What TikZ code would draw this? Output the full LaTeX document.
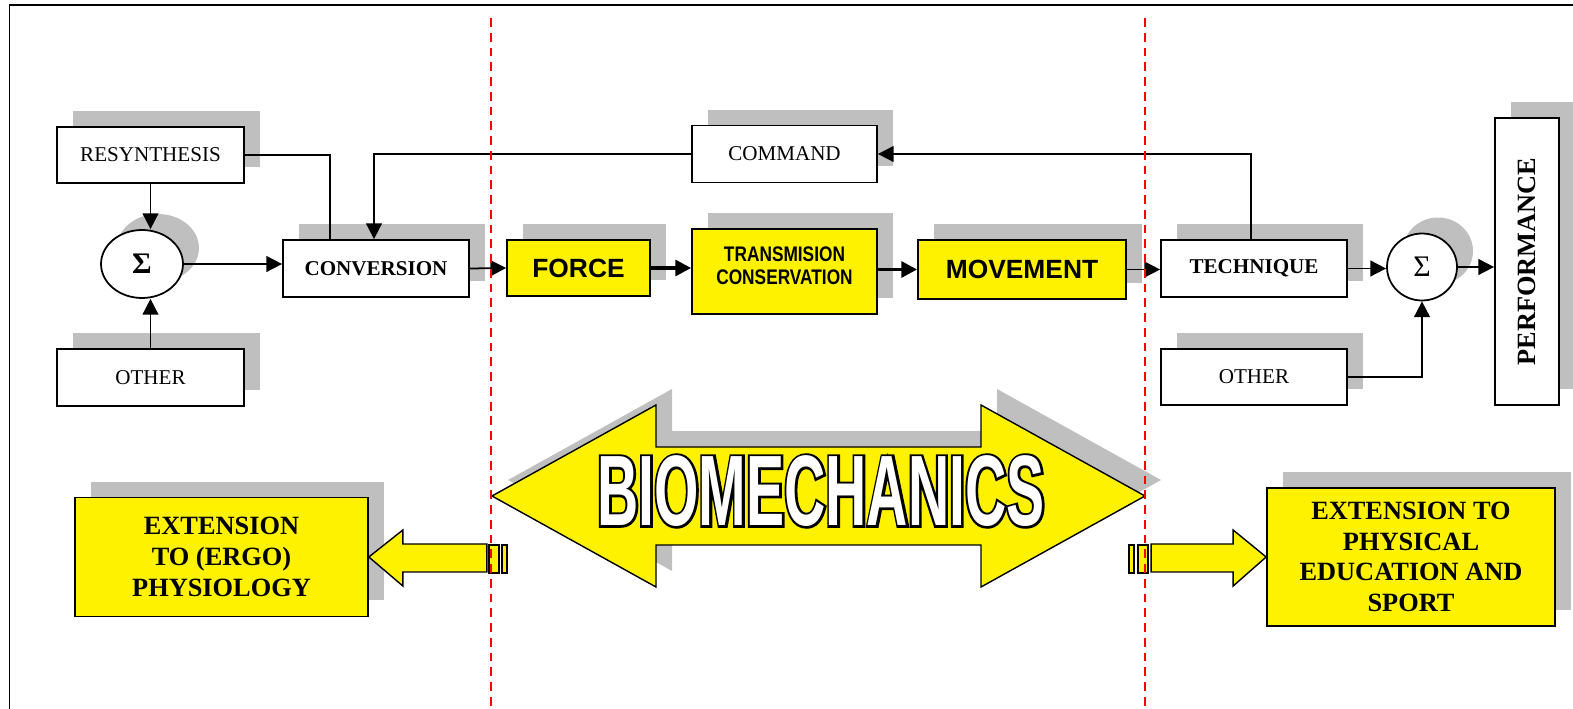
\documentclass[tikz,border=0pt]{standalone}
\usepackage{fontspec}
\setmainfont{Liberation Serif}
\newfontfamily\arialfont{Liberation Sans}
\newfontfamily\narrowfont[FakeStretch=0.82]{Liberation Sans}
\newfontfamily\biofont[FakeStretch=0.57]{Liberation Sans}
\usetikzlibrary{positioning,shapes.geometric,shadows,arrows.meta}

\newcommand{\boxfont}{\fontsize{12}{14}\selectfont}
\newcommand{\bigfont}{\fontsize{15}{17.5}\selectfont\bfseries}
% white letters with a black rim round them
\newcommand{\outlined}[1]{\rlap{\color{black}\special{pdf:literal direct 2 Tr 2.6 w}#1\special{pdf:literal direct 0 Tr}}#1}

\tikzset{
  lift/.style={drop shadow={shadow xshift=0.32cm, shadow yshift=0.32cm, fill=black!25, opacity=1}},
  block/.style={draw, line width=1pt, fill=white, lift, align=center, inner sep=2pt, font=\boxfont},
  yblock/.style={block, fill=yellow},
  sum/.style={ellipse, draw, line width=1pt, fill=white, lift, inner sep=0pt},
  link/.style={line width=1pt},
  flow/.style={->, line width=1pt},
  bigflow/.style={->, line width=2pt},
  border/.style={red, dash pattern=on 5pt off 3.4pt, line width=1.1pt},
  fatarrow/.style={draw, line width=0.8pt, fill=yellow},
}

\begin{document}
\begin{tikzpicture}[x=0.02cm, y=-0.02cm, >={Triangle[length=9pt,width=9pt]}]
\useasboundingbox (0,0) rectangle (1573,709);
\draw[line width=1.1pt] (9.5,720) -- (9.5,5) -- (1600,5);

% input side
\node[block, minimum width=3.74cm, minimum height=1.12cm] (res) at (150.5,155) {RESYNTHESIS};
\node[block, minimum width=3.74cm, minimum height=1.14cm] (otherL) at (150.5,377.5) {OTHER};
\node[sum, minimum width=1.64cm, minimum height=1.36cm] (sumL) at (142,264) {\fontsize{17}{17}\selectfont\bfseries Σ};
\node[block, minimum width=3.72cm, minimum height=1.14cm, font=\boxfont\bfseries] (conv) at (376,268.5) {CONVERSION};
\node[block, minimum width=3.70cm, minimum height=1.14cm] (cmd) at (784.5,154) {COMMAND};

% biomechanics chain
\node[yblock, minimum width=2.86cm, minimum height=1.12cm, font=\arialfont\bfseries\fontsize{15}{18}\selectfont] (force) at (578.5,268) {FORCE};
\node[yblock, minimum width=3.70cm, minimum height=1.70cm, font=\narrowfont\bfseries\fontsize{12}{13}\selectfont] (trans) at (784.5,271.5) {TRANSMISION\\CONSERVATION\\[-6pt]};
\node[yblock, minimum width=4.16cm, minimum height=1.18cm, font=\arialfont\bfseries\fontsize{15}{18}\selectfont] (move) at (1022,269.5) {MOVEMENT};

% output side
\node[block, minimum width=3.72cm, minimum height=1.14cm, font=\boxfont\bfseries] (tech) at (1254,268.5) {TECHNIQUE};
\node[block, minimum width=3.72cm, minimum height=1.12cm] (otherR) at (1254,377) {OTHER};
\node[sum, minimum width=1.40cm, minimum height=1.34cm] (sumR) at (1422,267) {\fontsize{17}{17}\selectfont Σ};
\node[block, minimum width=1.28cm, minimum height=5.74cm, font=\bigfont] (perf) at (1527,261.5) {\rotatebox{90}{PERFORMANCE}};

% extensions
\node[yblock, minimum width=5.86cm, minimum height=2.38cm, font=\bigfont] (ergo) at (221.5,557) {EXTENSION\\TO (ERGO)\\PHYSIOLOGY};
\node[yblock, minimum width=5.76cm, minimum height=2.76cm, font=\bigfont] (sport) at (1411,557) {EXTENSION TO\\PHYSICAL\\EDUCATION AND\\SPORT};

% connectors
\draw[flow] (res.south) -- (res.south |- sumL.north);
\draw[flow] (otherL.north) -- (otherL.north |- sumL.south);
\draw[flow] (sumL.east) -- (sumL.east -| conv.west);
\draw[link] (res.east) -| ([xshift=-0.92cm]conv.north);
\draw[flow] (cmd.west) -| ([xshift=-0.04cm]conv.north);
\draw[flow] (conv.east) -- (force.west);
\draw[bigflow] (force.east) -- (force.east -| trans.west);
\draw[bigflow] (move.west -| trans.east) -- (move.west);
\draw[flow] (move.east) -- (move.east -| tech.west);
\draw[flow] (tech.east) -- (tech.east -| sumR.west);
\draw[flow] (sumR.east) -- (sumR.east -| perf.west);
\draw[flow] (otherR.east) -| (sumR.south);
\draw[flow] ([xshift=-0.06cm]tech.north) |- (cmd.east);

% big double arrow
\draw[fatarrow, lift] (492,496) -- (656,405) -- (656,447) -- (981,447) -- (981,405) -- (1145,496)
  -- (981,587) -- (981,545) -- (656,545) -- (656,587) -- cycle;
\node[text=white, font=\biofont\bfseries\fontsize{57}{60}\selectfont] (bio) at (821,491) {\outlined{BIOMECHANICS}};

% hollow arrows to the extensions
\draw[fatarrow] (ergo.east) -- ++(34,-27) -- ++(0,14) -- ++(84,0) -- ++(0,28) -- ++(-84,0) -- ++(0,14) -- cycle;
\draw[fatarrow] (489,545) rectangle (499,573);
\draw[fatarrow] (502,545) rectangle (507,573);
\draw[fatarrow] (sport.west) -- ++(-33,-27) -- ++(0,14) -- ++(-82,0) -- ++(0,28) -- ++(82,0) -- ++(0,14) -- cycle;
\draw[fatarrow] (1138,545) rectangle (1148,573);
\draw[fatarrow] (1129,545) rectangle (1134,573);

% borders of the field
\draw[border] (491,18) -- (491,709);
\draw[border] (1145,18) -- (1145,709);
\end{tikzpicture}
\end{document}
